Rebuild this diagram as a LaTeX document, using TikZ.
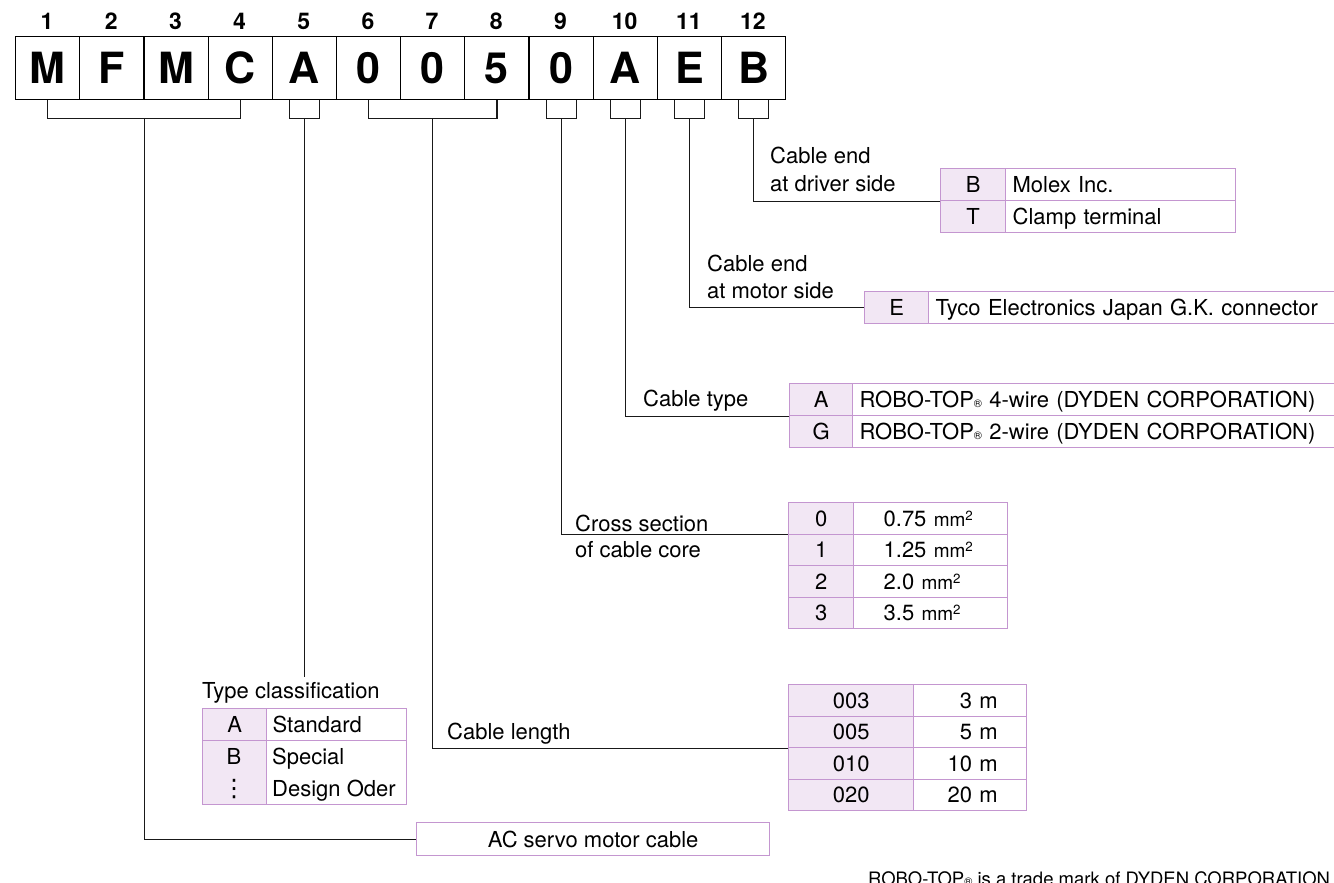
\documentclass[tikz,border=0pt]{standalone}
\usepackage{fontspec}
\setmainfont{TeX Gyre Heros}
\newfontfamily\dejavu{DejaVu Sans}
\usetikzlibrary{calc}
\definecolor{tblline}{RGB}{196,150,208}
\definecolor{keyfill}{RGB}{242,231,244}
\newcommand\regmark{{\fontsize{11}{11}\selectfont\textregistered}}
\newcommand\mmsq{{\fontsize{19}{19}\selectfont mm\textsuperscript{2}}}
\begin{document}
\begin{tikzpicture}[x=1pt,y=-1pt,
  digitbox/.style={draw=black, line width=1.3pt, minimum width=64.17pt, minimum height=63pt, inner sep=0pt, text height=31pt, text depth=0pt, font=\fontsize{43}{43}\selectfont\bfseries, anchor=north west},
  posnum/.style={inner sep=0pt, text height=16pt, text depth=0pt, font=\fontsize{23}{23}\selectfont\bfseries},
  conn/.style={draw=black!90, line width=1.2pt},
  lbl/.style={anchor=west, inner sep=0pt, text height=16pt, text depth=0pt, font=\fontsize{22}{22}\selectfont},
  cellbase/.style={draw=tblline, line width=1.3pt, anchor=north west, inner ysep=0pt, text height=16pt, text depth=0pt, font=\fontsize{22}{22}\selectfont},
  keycell/.style 2 args={cellbase, fill=keyfill, minimum width=#1, minimum height=#2, inner xsep=0pt},
  valcell/.style n args={4}{cellbase, fill=white, minimum height=#2, text width=#1, inner xsep=#3, align=#4},
]
\useasboundingbox (0,0) rectangle (1334,883);
\clip (0,0) rectangle (1334,883);

% code boxes
\foreach \i/\c in {1/M,2/F,3/M,4/C,5/A,6/0,7/0,8/5,9/0,10/A,11/E,12/B}{
  \node[digitbox] (b\i) at ({15+(\i-1)*64.17},36) {\c};
  \node[posnum] (n\i) at ({15+(\i-0.5)*64.17},22) {\i};
}

% brackets
\coordinate (k1) at ($(b2.south east)+(0,18)$);
\draw[conn] (b1.south) |- (k1) -| (b4.south);
\coordinate (k7) at ($(b7.south)+(0,18)$);
\draw[conn] (b6.south) |- (k7) -| (b8.south);
\foreach \i in {5,9,10,11,12}{
  \coordinate (k\i) at ($(b\i.south)+(0,18)$);
  \draw[conn] ($(b\i.south)+(-15,0)$) -- ++(0,18) -- ++(30,0) -- ++(0,-18);
}

% table: cable end at driver side
\node[lbl] (lDrv1) at (770,155) {Cable end};
\node[lbl] (lDrv2) at (770,183) {at driver side};
\node[keycell={65}{32}] (bB) at (940,168) {B};
\node[valcell={216pt}{32}{7pt}{left}] (bBv) at (1005,168) {Molex Inc.};
\node[keycell={65}{32}] (bT) at (940,200) {T};
\node[valcell={216pt}{32}{7pt}{left}] (bTv) at (1005,200) {Clamp terminal};

% table: cable end at motor side
\node[lbl] (lMot1) at (707,263) {Cable end};
\node[lbl] (lMot2) at (707,290) {at motor side};
\node[keycell={64}{32}] (eE) at (864,291) {E};
\node[valcell={400pt}{32}{7pt}{left}] (eEv) at (928,291) {Tyco Electronics Japan G.K. connector};

% table: cable type
\node[lbl] (lType) at (643,398) {Cable type};
\node[keycell={63}{32}] (tA) at (789,383) {A};
\node[valcell={480pt}{32}{7pt}{left}] (tAv) at (852,383) {ROBO-TOP\regmark{} 4-wire (DYDEN CORPORATION)};
\node[keycell={63}{32}] (tG) at (789,415) {G};
\node[valcell={480pt}{32}{7pt}{left}] (tGv) at (852,415) {ROBO-TOP\regmark{} 2-wire (DYDEN CORPORATION)};

% table: cross section
\node[lbl] (lCs1) at (575,523) {Cross section};
\node[lbl] (lCs2) at (575,549) {of cable core};
\foreach \k/\v [count=\r from 0] in {0/0.75,1/1.25,2/2.0,3/3.5}{
  \node[keycell={65}{31.5}] (c\k) at (788,{502+\r*31.5}) {\k};
  \node[valcell={94pt}{31.5}{30pt}{left}] (c\k v) at (853,{502+\r*31.5}) {\mbox{\v\ \mmsq}};
}

% table: cable length
\node[lbl] (lLen) at (447,731) {Cable length};
\foreach \k/\v [count=\r from 0] in {003/3,005/5,010/10,020/20}{
  \node[keycell={125}{31.5}] (l\k) at (788,{684+\r*31.5}) {\k};
  \node[valcell={55pt}{31.5}{29pt}{right}] (l\k v) at (913,{684+\r*31.5}) {\mbox{\v\ m}};
}

% table: type classification
\node[lbl] (tcTitle) at (202,690) {Type classification};
\node[keycell={64}{32}] (tcA) at (202,708) {A};
\node[valcell={128pt}{32}{6pt}{left}] (tcAv) at (266,708) {Standard};
\node[keycell={64}{64}] (tcB) at (202,740) {};
\node[keycell={140}{64}, fill=white] (tcBv) at (266,740) {};
\node[lbl, anchor=center] (tcBk) at (234,756) {B};
\node[inner sep=0pt, font=\dejavu\fontsize{24}{24}\selectfont] (tcDots) at (234,789) {⋮};
\node[lbl] (tcSp) at (272,756) {Special};
\node[lbl] (tcDo) at (272,788) {Design Oder};

% AC servo motor cable
\node[cellbase, fill=white, minimum width=353, minimum height=33, inner xsep=0pt] (ac) at (416,822) {AC servo motor cable};

% connectors
\coordinate (e5) at ($(k5)+(0,559)$);
\draw[conn] (k1) |- (ac.west);
\draw[conn] (k5) -- (e5);
\draw[conn] (k7) |- (l005.south west);
\draw[conn] (k9) |- (c0.south west);
\draw[conn] (k10) |- (tA.south west);
\draw[conn] (k11) |- (eE.west);
\draw[conn] (k12) |- (bB.south west);

% trade mark note
\node[anchor=base west, inner sep=0pt, font=\fontsize{18.5}{18.5}\selectfont] (tm) at (868,885) {ROBO-TOP\regmark{} is a trade mark of DYDEN CORPORATION};
\end{tikzpicture}
\end{document}
